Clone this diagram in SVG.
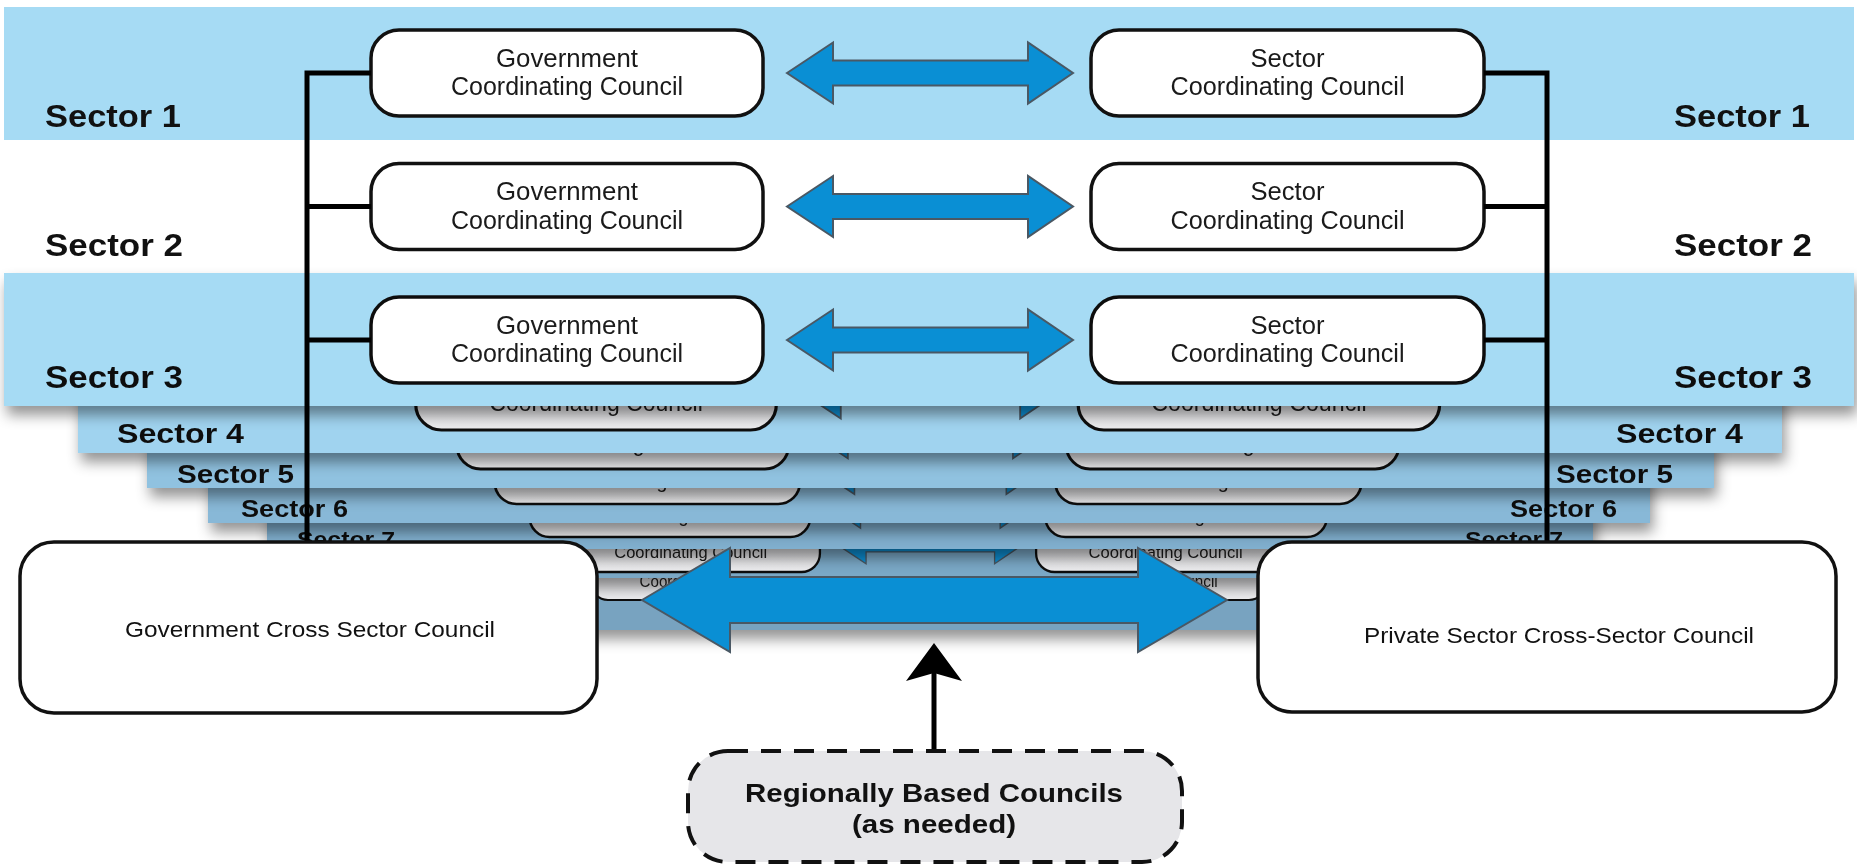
<svg xmlns="http://www.w3.org/2000/svg" width="1857" height="866" viewBox="0 0 1857 866">
  <defs>
    <style>
      .band { fill: #a6dbf4; }
      .t4 { fill: #a0d3ef; }
      .t5 { fill: #90c2e0; }
      .t6 { fill: #88b8d7; }
      .t7 { fill: #80afce; }
      .t8 { fill: #7aa8c6; }
      .t9 { fill: #78a3c0; }
      .box { fill: #ffffff; stroke: #111111; stroke-width: 3.5; }
      .tbox { fill: url(#tierBox); stroke: #111111; stroke-width: 3.5; }
      .cc { font-family: "Liberation Sans", Arial, sans-serif; font-size: 26px; fill: #1a1a1a; text-anchor: middle; }
      .lbl { font-family: "Liberation Sans", Arial, sans-serif; font-weight: bold; fill: #111111; }
      .end { text-anchor: end; }
      .cross { font-family: "Liberation Sans", Arial, sans-serif; font-size: 22px; fill: #111111; text-anchor: middle; }
      .reg { font-family: "Liberation Sans", Arial, sans-serif; font-weight: bold; font-size: 25px; fill: #111111; text-anchor: middle; }
      .flow { fill: #0a8fd4; stroke: #4a5864; stroke-width: 2; stroke-linejoin: miter; }
      .tree { fill: none; stroke: #000000; stroke-width: 5; stroke-linejoin: miter; }
      .bigbox { fill: #ffffff; stroke: #111111; stroke-width: 3.5; }
      .regbox { fill: #e6e6e9; stroke: #111111; stroke-width: 4; stroke-dasharray: 20 13; }
    </style>

    <linearGradient id="tierBox" x1="0" y1="0" x2="0" y2="1">
      <stop offset="0" stop-color="#cfcfd3"/>
      <stop offset="1" stop-color="#ececee"/>
    </linearGradient>

    <!-- soft shadow cast by each sector band onto the band behind it -->
    <filter id="drop" x="-3%" y="-20%" width="106%" height="170%">
      <feGaussianBlur in="SourceAlpha" stdDeviation="7"/>
      <feOffset dx="3" dy="9" result="blur"/>
      <feFlood flood-color="#000000" flood-opacity="0.42"/>
      <feComposite in2="blur" operator="in"/>
      <feMerge>
        <feMergeNode/>
        <feMergeNode in="SourceGraphic"/>
      </feMerge>
    </filter>

    <!-- two-headed arrow between the councils of one sector, centred on y = 0 -->
    <path id="dArrow" d="M787,0 L833,-30.5 V-12.5 H1028 V-30.5 L1073,0 L1028,30.5 V12.5 H833 V30.5 Z"/>

    <!-- one receding sector tier, drawn in the coordinates of sector 3 -->
    <g id="tier">
      <rect class="tbox" x="371" y="297" width="392" height="86" rx="28"/>
      <rect class="tbox" x="1091" y="297" width="393" height="86" rx="28"/>
      <use href="#dArrow" class="flow" y="340"/>
      <text class="cc" x="567" y="362" textLength="232" lengthAdjust="spacingAndGlyphs">Coordinating Council</text>
      <text class="cc" x="1287.5" y="362" textLength="234" lengthAdjust="spacingAndGlyphs">Coordinating Council</text>
    </g>
  </defs>

  <rect width="1857" height="866" fill="#ffffff"/>

  <!-- receding sectors, back to front -->
  <g id="tier-9" filter="url(#drop)">
    <rect class="t9" x="369" y="530" width="1122" height="100"/>
    <use href="#tier" transform="translate(930,600) scale(0.6064) translate(-930,-383)"/>
  </g>
  <g id="tier-8" filter="url(#drop)">
    <rect class="t8" x="320" y="500" width="1220" height="78"/>
    <use href="#tier" transform="translate(930,572) scale(0.6591) translate(-930,-383)"/>
  </g>
  <g id="sector-7" filter="url(#drop)">
    <rect class="t7" x="267" y="470" width="1326" height="79"/>
    <use href="#tier" transform="translate(930,537) scale(0.7164) translate(-930,-383)"/>
    <text class="lbl" x="297" y="547" font-size="22" textLength="98" lengthAdjust="spacingAndGlyphs">Sector 7</text>
    <text class="lbl end" x="1563" y="547" font-size="22" textLength="98" lengthAdjust="spacingAndGlyphs">Sector 7</text>
  </g>
  <g id="sector-6" filter="url(#drop)">
    <rect class="t6" x="208" y="440" width="1442" height="83"/>
    <use href="#tier" transform="translate(930,504) scale(0.7787) translate(-930,-383)"/>
    <text class="lbl" x="241" y="517" font-size="24" textLength="107" lengthAdjust="spacingAndGlyphs">Sector 6</text>
    <text class="lbl end" x="1617" y="517" font-size="24" textLength="107" lengthAdjust="spacingAndGlyphs">Sector 6</text>
  </g>
  <g id="sector-5" filter="url(#drop)">
    <rect class="t5" x="147" y="400" width="1567" height="88"/>
    <use href="#tier" transform="translate(930,469) scale(0.8464) translate(-930,-383)"/>
    <text class="lbl" x="177" y="483" font-size="25.5" textLength="117" lengthAdjust="spacingAndGlyphs">Sector 5</text>
    <text class="lbl end" x="1673" y="483" font-size="25.5" textLength="117" lengthAdjust="spacingAndGlyphs">Sector 5</text>
  </g>
  <g id="sector-4" filter="url(#drop)">
    <rect class="t4" x="78" y="340" width="1704" height="113"/>
    <use href="#tier" transform="translate(930,430) scale(0.92) translate(-930,-383)"/>
    <text class="lbl" x="117" y="443" font-size="28" textLength="127" lengthAdjust="spacingAndGlyphs">Sector 4</text>
    <text class="lbl end" x="1743" y="443" font-size="28" textLength="127" lengthAdjust="spacingAndGlyphs">Sector 4</text>
  </g>

  <!-- sector 3 -->
  <g id="sector-3" filter="url(#drop)">
    <rect class="band" x="4" y="273" width="1850" height="133"/>
    <text class="lbl" x="45" y="388" font-size="31" textLength="138" lengthAdjust="spacingAndGlyphs">Sector 3</text>
    <text class="lbl end" x="1812" y="388" font-size="31" textLength="138" lengthAdjust="spacingAndGlyphs">Sector 3</text>
    <g id="gcc-3">
      <rect class="box" x="371" y="297" width="392" height="86" rx="28"/>
      <text class="cc" x="567" y="333.5" textLength="142" lengthAdjust="spacingAndGlyphs">Government</text>
      <text class="cc" x="567" y="362" textLength="232" lengthAdjust="spacingAndGlyphs">Coordinating Council</text>
    </g>
    <g id="scc-3">
      <rect class="box" x="1091" y="297" width="393" height="86" rx="28"/>
      <text class="cc" x="1287.5" y="333.5" textLength="74" lengthAdjust="spacingAndGlyphs">Sector</text>
      <text class="cc" x="1287.5" y="362" textLength="234" lengthAdjust="spacingAndGlyphs">Coordinating Council</text>
    </g>
  </g>

  <!-- sector 2 -->
  <g id="sector-2">
    <text class="lbl" x="45" y="256" font-size="31" textLength="138" lengthAdjust="spacingAndGlyphs">Sector 2</text>
    <text class="lbl end" x="1812" y="256" font-size="31" textLength="138" lengthAdjust="spacingAndGlyphs">Sector 2</text>
    <g id="gcc-2">
      <rect class="box" x="371" y="163.5" width="392" height="86" rx="28"/>
      <text class="cc" x="567" y="200" textLength="142" lengthAdjust="spacingAndGlyphs">Government</text>
      <text class="cc" x="567" y="228.5" textLength="232" lengthAdjust="spacingAndGlyphs">Coordinating Council</text>
    </g>
    <g id="scc-2">
      <rect class="box" x="1091" y="163.5" width="393" height="86" rx="28"/>
      <text class="cc" x="1287.5" y="200" textLength="74" lengthAdjust="spacingAndGlyphs">Sector</text>
      <text class="cc" x="1287.5" y="228.5" textLength="234" lengthAdjust="spacingAndGlyphs">Coordinating Council</text>
    </g>
  </g>

  <!-- sector 1 -->
  <g id="sector-1">
    <rect class="band" x="4" y="7" width="1850" height="133"/>
    <text class="lbl" x="45" y="127" font-size="31" textLength="136" lengthAdjust="spacingAndGlyphs">Sector 1</text>
    <text class="lbl end" x="1810" y="127" font-size="31" textLength="136" lengthAdjust="spacingAndGlyphs">Sector 1</text>
    <g id="gcc-1">
      <rect class="box" x="371" y="30" width="392" height="86" rx="28"/>
      <text class="cc" x="567" y="66.5" textLength="142" lengthAdjust="spacingAndGlyphs">Government</text>
      <text class="cc" x="567" y="95" textLength="232" lengthAdjust="spacingAndGlyphs">Coordinating Council</text>
    </g>
    <g id="scc-1">
      <rect class="box" x="1091" y="30" width="393" height="86" rx="28"/>
      <text class="cc" x="1287.5" y="66.5" textLength="74" lengthAdjust="spacingAndGlyphs">Sector</text>
      <text class="cc" x="1287.5" y="95" textLength="234" lengthAdjust="spacingAndGlyphs">Coordinating Council</text>
    </g>
  </g>

  <!-- connectors -->
  <g id="connectors">
    <use href="#dArrow" class="flow" y="73"/>
    <use href="#dArrow" class="flow" y="206.5"/>
    <use href="#dArrow" class="flow" y="340"/>
    <path class="tree" d="M371,73 H307 V542 M307,206.5 H371 M307,340 H371"/>
    <path class="tree" d="M1484,73 H1547 V542 M1547,206.5 H1484 M1547,340 H1484"/>
    <path class="flow" stroke-width="2.5" d="M642,600 L730,548 V577 H1138 V548 L1227,600 L1138,652 V623 H730 V652 Z"/>
    <line x1="934" y1="749" x2="934" y2="670" stroke="#000000" stroke-width="5"/>
    <path d="M934,643 L962,681 L934,673 L906,681 Z" fill="#000000"/>
  </g>

  <!-- cross-sector councils -->
  <g id="gov-cross-sector">
    <rect class="bigbox" x="20" y="542" width="577" height="171" rx="34"/>
    <text class="cross" x="310" y="637" textLength="370" lengthAdjust="spacingAndGlyphs">Government Cross Sector Council</text>
  </g>
  <g id="private-cross-sector">
    <rect class="bigbox" x="1258" y="542" width="578" height="170" rx="34"/>
    <text class="cross" x="1559" y="643" textLength="390" lengthAdjust="spacingAndGlyphs">Private Sector Cross-Sector Council</text>
  </g>

  <!-- regional councils -->
  <g id="regional-councils">
    <rect class="regbox" x="688" y="751" width="494" height="111" rx="40"/>
    <text class="reg" x="934" y="802" textLength="378" lengthAdjust="spacingAndGlyphs">Regionally Based Councils</text>
    <text class="reg" x="934" y="833" textLength="164" lengthAdjust="spacingAndGlyphs">(as needed)</text>
  </g>
</svg>
